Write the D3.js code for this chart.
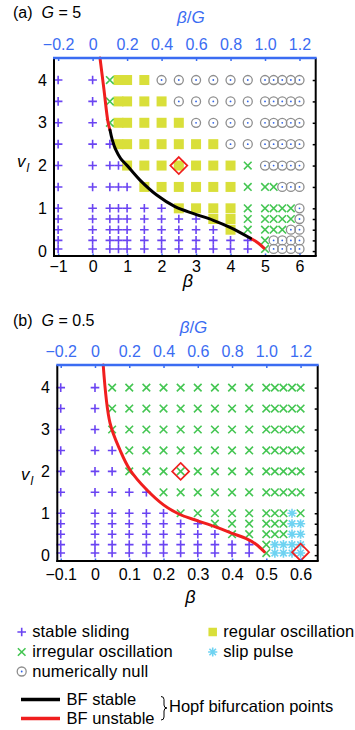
<!DOCTYPE html>
<html>
<head>
<meta charset="utf-8">
<script src="https://cdn.jsdelivr.net/npm/d3@7"></script>
<style>
  body { margin: 0; background: #fff; }
  svg text { font-family: "Liberation Sans", Arial, Helvetica, sans-serif; }
</style>
</head>
<body>
<div id="chart"></div>
<script>
// state codes: P stable sliding, X irregular oscillation, S regular oscillation,
// O numerically null, C slip pulse

// (a) G = 5
var G_A = 5;
var betaA = [-1, 0, 0.5, 0.75, 1, 1.5, 2, 2.5, 3, 3.5, 4, 4.5, 5, 5.25, 5.5, 5.75, 6];
var vlA = [4, 3.5, 3, 2.5, 2, 1.5, 1, 0.75, 0.5, 0.25, 0.05];
var stateA = [
  "PPXSSSOOOOOOOOOOO",
  "PPXSSSSOOOOOOOOOO",
  "PPXSSSSSOOOOOOOOO",
  "PPPSSSSSSSOOOOOOO",
  "PPPPSSSSSSSXOOOOO",
  "PPPPPSSSSSSXXXOOO",
  "PPPPPPPSSSSXXXXXO",
  "PPPPPPPPPSSXXXXXO",
  "PPPPPPPPPPSXXXXOO",
  "PPPPPPPPPPPPXOOOO",
  "PPPPPPPPPPPPXOOOO"
];
var markedA = [[2.5, 2]];
var unstableTopA = [[0.214, 4.515], [0.33, 3.77], [0.446, 3.02], [0.504, 2.83]];
var stableA = [[0.504, 2.83], [0.57, 2.6], [0.67, 2.37], [0.81, 2.17], [0.99, 2.01],
               [1.374, 1.66], [1.859, 1.31], [2.389, 1.04], [2.95, 0.87], [3.5, 0.72],
               [4.0, 0.55], [4.58, 0.3]];
var unstableBotA = [[4.58, 0.3], [4.8, 0.19], [4.97, 0.07]];
var xTicksA = [-1, 0, 1, 2, 3, 4, 5, 6];

// (b) G = 0.5
var G_B = 0.5;
var betaB = [-0.1, 0, 0.05, 0.1, 0.15, 0.2, 0.25, 0.3, 0.35, 0.4, 0.45, 0.5, 0.525, 0.55, 0.575, 0.6];
var vlB = [4, 3.5, 3, 2.5, 2, 1.5, 1, 0.75, 0.5, 0.25, 0.05];
var stateB = [
  "PPXXXXXXXXXXXXXX",
  "PPXXXXXXXXXXXXXX",
  "PPXXXXXXXXXXXXXX",
  "PPPXXXXXXXXXXXXX",
  "PPPXXXXXXXXXXXXX",
  "PPPPPXXXXXXXXXXX",
  "PPPPPPXXXXXXXXCX",
  "PPPPPPPPXXXXXXCC",
  "PPPPPPPPPXXXXXCC",
  "PPPPPPPPPPPXCCCC",
  "PPPPPPPPPPPXCCCC"
];
var markedB = [[0.25, 2], [0.6, 0.07]];
var unstableB = [[0.024, 4.54], [0.044, 3.15], [0.073, 2.51], [0.102, 2.04], [0.151, 1.56],
                 [0.2, 1.2], [0.248, 0.97], [0.3, 0.82], [0.35, 0.68], [0.4, 0.52],
                 [0.44, 0.4], [0.47, 0.26], [0.494, 0.08]];
var xTicksB = [-0.1, 0, 0.1, 0.2, 0.3, 0.4, 0.5, 0.6];

var topTicks = [-0.2, 0, 0.2, 0.4, 0.6, 0.8, 1.0, 1.2];   // beta/G
var yTicks = [0, 1, 2, 3, 4];
var rightTicks = [0, 0.25, 0.5, 0.75, 1, 1.5, 2, 2.5, 3, 3.5, 4];

var legendLabels = ["stable sliding", "irregular oscillation", "numerically null",
                    "regular oscillation", "slip pulse"];
var legendCodes = ["P", "X", "O", "S", "C"];

var COL = {P: "#6a44f2", X: "#45c653", S: "#d9df3a", O: "#8e8e8e", C: "#6fd3f2",
           dot: "#2f63e8", red: "#f01e1e", blue: "#3b6cf2"};

var svg = d3.select("#chart").append("svg")
    .attr("width", 355).attr("height", 730);

function marker(g, code, cx, cy, s) {
  s = s || 1;
  var m = g.append("g").attr("transform", "translate(" + cx + "," + cy + ")");
  if (code === "P") {
    m.append("path").attr("d", "M-4.3,0H4.3M0,-4.3V4.3")
      .attr("stroke", COL.P).attr("stroke-width", 1.6).attr("fill", "none");
  } else if (code === "X") {
    m.append("path").attr("d", "M-3.8,-3.8L3.8,3.8M-3.8,3.8L3.8,-3.8")
      .attr("stroke", COL.X).attr("stroke-width", 1.6).attr("fill", "none");
  } else if (code === "S") {
    m.append("rect").attr("x", -5 * s).attr("y", -5 * s).attr("width", 10 * s).attr("height", 10 * s)
      .attr("fill", COL.S);
  } else if (code === "O") {
    m.append("circle").attr("r", 4.5).attr("fill", "none")
      .attr("stroke", COL.O).attr("stroke-width", 1.3);
    m.append("circle").attr("r", 0.9).attr("fill", COL.dot);
  } else if (code === "C") {
    m.append("path").attr("d", "M-4.6,0H4.6M0,-4.6V4.6M-3.3,-3.3L3.3,3.3M-3.3,3.3L3.3,-3.3")
      .attr("stroke", COL.C).attr("stroke-width", 1.6).attr("fill", "none");
  }
}

var fmt1 = function(d) { return Math.abs(d) < 1e-9 ? "0" : d3.format(".1f")(d); };

function drawPanel(p) {
  var x = d3.scaleLinear().domain(p.xDomain).range([p.left, p.right]);
  var y = d3.scaleLinear().domain(p.yDomain).range([p.bottom, p.top]);
  var g = svg.append("g");

  // grid of simulation results
  var cells = [];
  p.rows.forEach(function(v, i) {
    p.states[i].split("").forEach(function(c, j) {
      cells.push({b: p.cols[j], v: v, c: c});
    });
  });
  var layer = g.append("g");
  ["O", "S", "X", "P", "C"].forEach(function(code) {
    cells.filter(function(d) { return d.c === code; }).forEach(function(d) {
      marker(layer, code, x(d.b), y(d.v));
    });
  });

  // Hopf bifurcation curves
  var line = d3.line().x(function(d) { return x(d[0]); }).y(function(d) { return y(d[1]); })
      .curve(d3.curveCatmullRom);
  p.curves.forEach(function(c) {
    g.append("path").attr("d", line(c.pts)).attr("fill", "none")
      .attr("stroke", c.color).attr("stroke-width", 3).attr("stroke-linecap", "round");
  });

  // highlighted points
  p.marked.forEach(function(d) {
    g.append("path").attr("transform", "translate(" + x(d[0]) + "," + y(d[1]) + ")")
      .attr("d", "M0,-8.5L8.5,0L0,8.5L-8.5,0Z")
      .attr("fill", "none").attr("stroke", COL.red).attr("stroke-width", 1.7);
  });

  // axes
  var bottom = g.append("g").attr("transform", "translate(0," + p.bottom + ")")
    .call(d3.axisBottom(x).tickValues(p.xTicks).tickFormat(p.xFmt)
      .tickSizeInner(-2.5).tickSizeOuter(0).tickPadding(p.bPad));
  bottom.selectAll(".tick line").attr("stroke", COL.blue).attr("stroke-width", 1.5);

  var top = g.append("g").attr("transform", "translate(0," + p.top + ")")
    .call(d3.axisTop(x).tickValues(topTicks.map(function(t) { return t * p.G; }))
      .tickFormat(function(d) { return fmt1(d / p.G); })
      .tickSizeInner(-3).tickSizeOuter(0).tickPadding(p.tPad));
  top.attr("color", COL.blue);
  top.selectAll(".tick line").attr("stroke-width", 1.5);

  var left = g.append("g").attr("transform", "translate(" + p.left + ",0)")
    .call(d3.axisLeft(y).tickValues(yTicks).tickFormat(d3.format("d"))
      .tickSize(0).tickPadding(p.lPad));

  var right = g.append("g").attr("transform", "translate(" + p.right + ",0)")
    .call(d3.axisRight(y).tickValues(rightTicks).tickFormat("")
      .tickSizeInner(-3).tickSizeOuter(0));
  right.selectAll(".tick line").attr("stroke-width", 1.5);

  [bottom, top, left, right].forEach(function(a) {
    a.select(".domain").remove();
    a.attr("font-size", 16).attr("font-family", null);
  });

  // frame
  g.append("line").attr("x1", p.left).attr("x2", p.left).attr("y1", p.top).attr("y2", p.bottom + 1)
    .attr("stroke", "#000").attr("stroke-width", 2);
  g.append("line").attr("x1", p.left - 1).attr("x2", p.right + 1).attr("y1", p.bottom).attr("y2", p.bottom)
    .attr("stroke", "#000").attr("stroke-width", 2);
  g.append("line").attr("x1", p.right).attr("x2", p.right).attr("y1", p.top).attr("y2", p.bottom)
    .attr("stroke", "#000").attr("stroke-width", 2);
  g.append("line").attr("x1", p.left - 1).attr("x2", p.right + 1).attr("y1", p.top).attr("y2", p.top)
    .attr("stroke", COL.blue).attr("stroke-width", 2.5);

  // labels
  var t = g.append("text").attr("x", 13).attr("y", p.titleY).attr("font-size", 16);
  t.append("tspan").text("(" + p.tag + ")");
  t.append("tspan").attr("dx", 9).attr("font-style", "italic").text("G");
  t.append("tspan").text(" = " + p.G);

  var tl = g.append("text").attr("x", (p.left + p.right) / 2 + 6).attr("y", p.topLabelY)
    .attr("text-anchor", "middle").attr("font-size", 17).attr("fill", COL.blue);
  tl.append("tspan").attr("font-style", "italic").text("β");
  tl.append("tspan").text("/");
  tl.append("tspan").attr("font-style", "italic").text("G");

  g.append("text").attr("x", (p.left + p.right) / 2 + 3).attr("y", p.betaY)
    .attr("text-anchor", "middle").attr("font-size", 18).attr("font-style", "italic").text("β");

  var vl = g.append("text").attr("x", p.vlX).attr("y", p.vlY).attr("font-size", 17)
    .attr("font-style", "italic");
  vl.append("tspan").text("v");
  vl.append("tspan").attr("dx", 1).attr("dy", 5).attr("font-size", 12).text("l");
}

drawPanel({
  tag: "a", G: G_A, cols: betaA, rows: vlA, states: stateA, marked: markedA,
  curves: [{pts: unstableTopA, color: COL.red}, {pts: unstableBotA, color: COL.red},
           {pts: stableA, color: "#000"}],
  xTicks: xTicksA, xFmt: d3.format("d"),
  xDomain: [-1.12, 6.47], yDomain: [-0.115, 4.515],
  left: 54, right: 315.7, top: 58, bottom: 256,
  bPad: 5, tPad: 8, lPad: 7,
  titleY: 18, topLabelY: 23, betaY: 287, vlX: 17, vlY: 167
});

drawPanel({
  tag: "b", G: G_B, cols: betaB, rows: vlB, states: stateB, marked: markedB,
  curves: [{pts: unstableB, color: COL.red}],
  xTicks: xTicksB, xFmt: fmt1,
  xDomain: [-0.11, 0.65], yDomain: [-0.14, 4.54],
  left: 57.3, right: 317.7, top: 365, bottom: 561,
  bPad: 7.5, tPad: 8.3, lPad: 7.3,
  titleY: 326, topLabelY: 333, betaY: 603, vlX: 21, vlY: 480
});

// legend
var lg = svg.append("g").attr("font-size", 16.5).attr("letter-spacing", 0.15);
var legendPos = [[21.7, 637], [21.7, 657], [21.7, 676.5], [212.7, 637], [212.7, 657]];
legendCodes.forEach(function(code, i) {
  var px = legendPos[i][0], py = legendPos[i][1];
  marker(lg, code, px, py - 5, 0.85);
  lg.append("text").attr("x", px + 10.5).attr("y", py).text(legendLabels[i]);
});
lg.append("line").attr("x1", 21).attr("x2", 60).attr("y1", 699.5).attr("y2", 699.5)
  .attr("stroke", "#000").attr("stroke-width", 3.5);
lg.append("line").attr("x1", 21).attr("x2", 60).attr("y1", 718.5).attr("y2", 718.5)
  .attr("stroke", COL.red).attr("stroke-width", 3.5);
lg.append("text").attr("x", 66.5).attr("y", 705).attr("letter-spacing", 0).text("BF stable");
lg.append("text").attr("x", 66.5).attr("y", 724).attr("letter-spacing", 0).text("BF unstable");
lg.append("path")
  .attr("d", "M161,696.5Q164,696.5 164,699.5L164,705Q164,708 167,708Q164,708 164,711L164,717Q164,720 161,720")
  .attr("fill", "none").attr("stroke", "#000").attr("stroke-width", 1);
lg.append("text").attr("x", 169).attr("y", 712).attr("letter-spacing", 0).text("Hopf bifurcation points");
</script>
</body>
</html>
